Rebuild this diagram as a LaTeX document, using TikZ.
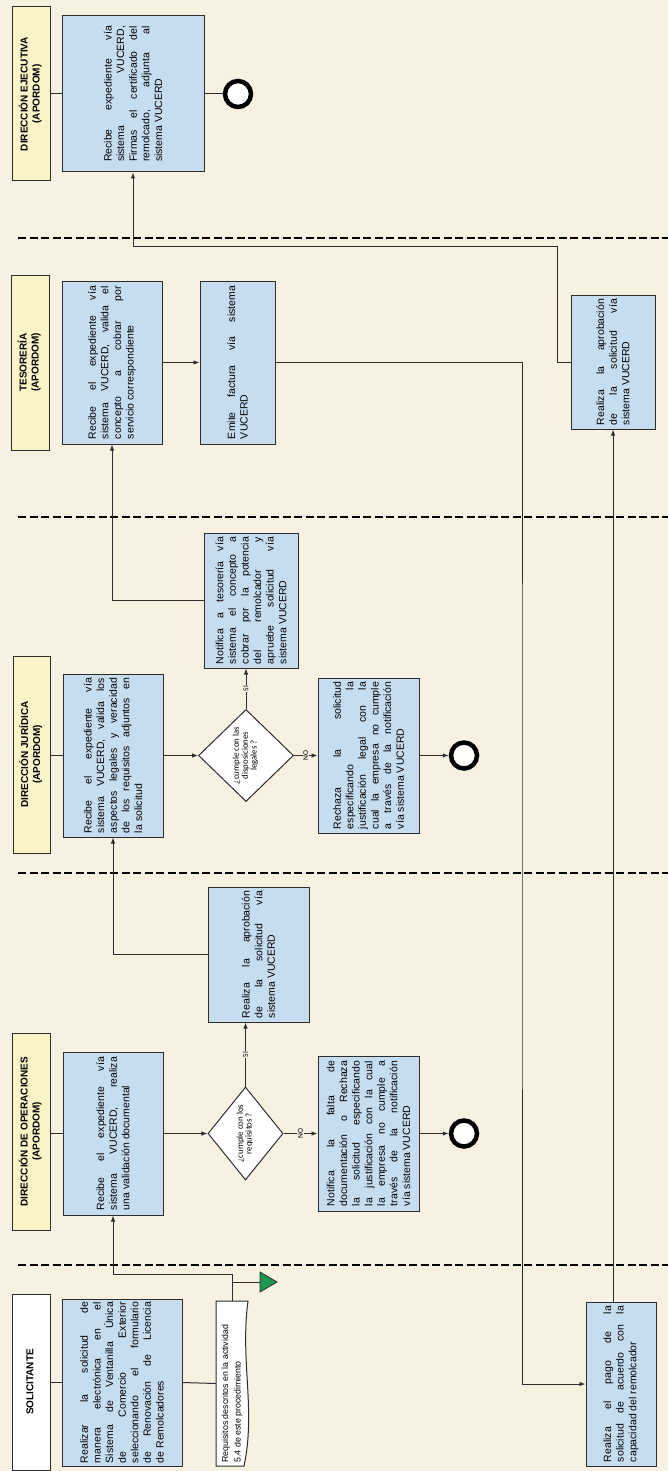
\documentclass[tikz,border=0pt]{standalone}
\usepackage{fontspec}
\setmainfont{Liberation Sans}
\newfontfamily\carl{Carlito}
\usetikzlibrary{arrows.meta,shapes.geometric,calc}
\definecolor{bgc}{RGB}{247,241,226}
\definecolor{boxc}{RGB}{198,221,240}
\definecolor{labc}{RGB}{250,243,200}
\definecolor{bord}{RGB}{45,45,45}
\definecolor{grn}{RGB}{30,150,80}
\newcommand{\bxfont}{\fontsize{10.5}{12.6}\selectfont\hyphenpenalty=10000\sloppy}
\newcommand{\vbx}[2]{\rotatebox{90}{\parbox{#1pt}{\bxfont #2}}}
\newcommand{\vlab}[1]{\rotatebox{90}{\bfseries\fontsize{10}{12}\selectfont\begin{tabular}{@{}c@{}}#1\end{tabular}}}
\newcommand{\vdia}[1]{\rotatebox{90}{\carl\fontsize{8.8}{8.8}\selectfont\begin{tabular}{@{}c@{}}#1\end{tabular}}}
\tikzset{
 bx/.style 2 args={draw=bord, fill=boxc, line width=1pt, inner sep=0pt, minimum width=#1pt, minimum height=#2pt},
 lab/.style 2 args={draw=bord, fill=labc, line width=1pt, inner sep=0pt, minimum width=#1pt, minimum height=#2pt},
 dia/.style 2 args={diamond, aspect=1, draw=bord, fill=white, line width=1pt, inner sep=0pt, minimum width=#1pt, minimum height=#2pt},
 endc/.style={circle, draw=black, fill=white, line width=4.5pt, minimum size=26pt, inner sep=0pt},
 ln/.style={draw=bord, line width=1pt},
 arr/.style={ln, -{Latex[length=6pt,width=4.5pt]}},
 sep/.style={draw=black, line width=2.2pt, dash pattern=on 8pt off 3.5pt},
 yn/.style={fill=bgc, inner sep=0.6pt, rotate=90, font=\carl\fontsize{7.5}{8}\selectfont},
}
\begin{document}
\begin{tikzpicture}[x=1pt,y=-1pt]
\fill[bgc] (0,0) rectangle (668,1471);
\useasboundingbox (0,0) rectangle (668,1471);
% lane separators
\draw[sep] (18,238) -- (668,238);
\draw[sep] (18,517) -- (668,517);
\draw[sep] (18,873) -- (668,873);
\draw[sep] (18,1265) -- (668,1265);

% ---- Direccion Ejecutiva
\node[lab={38}{174}] (labE) at (31,94) {\vlab{DIRECCIÓN EJECUTIVA\\(APORDOM)}};
\node[bx={142}{156}] (bE) at (133,94) {\vbx{136}{Recibe expediente vía\linebreak sistema VUCERD,\linebreak Firmas el certificado del\linebreak remolcado, adjunta al\linebreak sistema VUCERD}};
\node[endc] (endE) at (238,94) {};

% ---- Tesoreria
\node[lab={38}{175}] (labT) at (30,362.5) {\vlab{TESORERÍA\\(APORDOM)}};
\node[bx={100}{163}] (bT1) at (112,362.5) {\vbx{153}{Recibe el expediente vía\linebreak sistema VUCERD, valida el\linebreak concepto a cobrar por\linebreak servicio correspondiente}};
\node[bx={75}{163}] (bT2) at (237.5,362.5) {\vbx{153}{Emite factura vía sistema\linebreak VUCERD}};
\node[bx={84}{134}] (bT3) at (613,362) {\vbx{126}{Realiza la aprobación\linebreak de la solicitud vía\linebreak sistema VUCERD}};

% ---- Direccion Juridica
\node[lab={37}{197}] (labJ) at (31.5,754.5) {\vlab{DIRECCIÓN JURÍDICA\\(APORDOM)}};
\node[bx={100}{163}] (bJ1) at (113,755.5) {\vbx{155}{Recibe el expediente vía\linebreak sistema VUCERD, valida los\linebreak aspectos legales y veracidad\linebreak de los requisitos adjuntos en\linebreak la solicitud}};
\node[dia={95}{92}] (dJ) at (246,755.5) {\vdia{¿cumple con las\\disposiciones\\legales ?}};
\node[bx={94}{135}] (bJ2) at (251,600.5) {\vbx{127}{Notifica a tesorería vía\linebreak sistema el concepto a\linebreak cobrar por la potencia\linebreak del remolcador y\linebreak apruebe solicitud vía\linebreak sistema VUCERD}};
\node[bx={101}{155}] (bJ3) at (368.5,755.5) {\vbx{147}{Rechaza la solicitud\linebreak especificando la\linebreak justificación legal con la\linebreak cual la empresa no cumple\linebreak a través de la notificación\linebreak vía sistema VUCERD}};
\node[endc] (endJ) at (464,755.5) {};

% ---- Direccion de Operaciones
\node[lab={38}{197}] (labO) at (31,1131.5) {\vlab{DIRECCIÓN DE OPERACIONES\\(APORDOM)}};
\node[bx={100}{163}] (bO1) at (113,1133.5) {\vbx{153}{Recibe el expediente vía\linebreak sistema VUCERD, realiza\linebreak una validación documental}};
\node[dia={75}{93}] (dO) at (245.5,1133.5) {\vdia{¿cumple con los\\requisitos ?}};
\node[bx={101}{135}] (bO2) at (258.5,954.5) {\vbx{127}{Realiza la aprobación\linebreak de la solicitud vía\linebreak sistema VUCERD}};
\node[bx={101}{155}] (bO3) at (368.5,1133.5) {\vbx{145}{Notifica la falta de\linebreak documentación o Rechaza\linebreak la solicitud especificando\linebreak la justificación con la cual\linebreak la empresa no cumple a\linebreak través de la notificación\linebreak vía sistema VUCERD}};
\node[endc] (endO) at (464,1133.5) {};

% ---- Solicitante
\node[draw=bord, fill=white, line width=1pt, inner sep=0pt, minimum width=38pt, minimum height=176pt] (labS) at (31,1382) {\vlab{SOLICITANTE}};
\node[bx={120}{167}] (bS1) at (122,1382.5) {\vbx{161}{Realizar la solicitud de\linebreak manera electrónica en el\linebreak Sistema de Ventanilla Única\linebreak de Comercio Exterior\linebreak seleccionando el formulario\linebreak de Renovación de Licencia\linebreak de Remolcadores}};
\filldraw[fill=white, draw=bord, line width=1pt] (216,1301) -- (248,1301) .. controls (240,1360) and (256,1410) .. (244,1466) -- (216,1466) -- cycle;
\node[inner sep=0pt, minimum width=32pt, minimum height=165pt] (doc) at (232,1383.5) {\rotatebox{90}{\parbox{158pt}{\raggedright\fontsize{8.8}{12.5}\selectfont Requisitos descritos en la actividad\\5.4 de este procedimiento}}};
\node[bx={70}{164}] (bS2) at (621,1384) {\vbx{156}{Realiza el pago de la\linebreak solicitud de acuerdo con la\linebreak capacidad del remolcador}};
\coordinate (tri) at (260,1282);
\filldraw[fill=grn, draw=bord, line width=0.8pt] (tri) ++(0,-10) -- ++(17,10) -- ++(-17,10) -- cycle;

% ---- connectors
\draw[ln] (labE.east |- bE.west) -- (bE.west);
\draw[ln] (bE.east) -- (endE.west);
\draw[arr] (bT1.east) -- (bT2.west);
\coordinate (cT) at (522,800);
\draw[arr] (bT2.east) -| (cT) |- (bS2.west);
\draw[arr] (bS2.north -| bT3.south) -- (bT3.south);
\coordinate (cE) at (133,247);
\draw[arr] (bT3.west) -- ++(-13,0) |- (cE) -- (bE.south);

\draw[ln] (labJ.east |- bJ1.west) -- (bJ1.west);
\draw[arr] (bJ1.east) -- (dJ.west);
\draw[arr] (dJ.north) -- node[yn] (siJ) {SI} (dJ.north |- bJ2.south);
\draw[arr] (dJ.east) -- node[yn] (noJ) {NO} (bJ3.west |- dJ.east);
\draw[arr] (bJ3.east) -- (endJ.west);
\draw[arr] (bJ2.west) -| (bT1.south);

\draw[ln] (labO.east |- bO1.west) -- (bO1.west);
\draw[arr] (bO1.east) -- (dO.west);
\draw[arr] (dO.north) -- node[yn] (siO) {SI} (dO.north |- bO2.south);
\draw[arr] (dO.east) -- node[yn] (noO) {NO} (bO3.west |- dO.east);
\draw[arr] (bO3.east) -- (endO.west);
\draw[arr] (bO2.west) -| (bJ1.south);

\draw[ln] (labS.east |- bS1.west) -- (bS1.west);
\draw[ln] (bS1.east) -- (doc.west);
\coordinate (cS) at (232,1274);
\draw[arr] (doc.north) -- (cS) -| (bO1.south);
\draw[ln] (doc.north |- tri) -- (tri);
\end{tikzpicture}
\end{document}
